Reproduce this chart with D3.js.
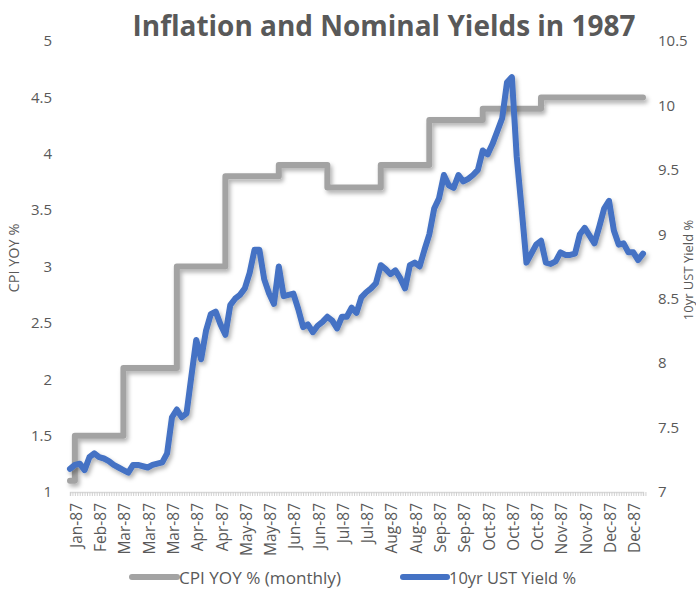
<!DOCTYPE html>
<html>
<head>
<meta charset="utf-8">
<script src="https://cdn.jsdelivr.net/npm/d3@7/dist/d3.min.js"></script>
<style>
  html, body { margin: 0; padding: 0; background: #ffffff; }
  svg { display: block; }
</style>
</head>
<body>
<svg id="chart" width="696" height="589"></svg>
<script>
// ---------------- DATA ----------------
const title = "Inflation and Nominal Yields in 1987";
const categories = ["Jan-87","Feb-87","Mar-87","Mar-87","Mar-87","Apr-87","Apr-87","May-87","May-87","Jun-87","Jun-87","Jul-87","Jul-87","Aug-87","Aug-87","Sep-87","Sep-87","Oct-87","Oct-87","Oct-87","Nov-87","Nov-87","Dec-87","Dec-87"];
const leftTicks = [1, 1.5, 2, 2.5, 3, 3.5, 4, 4.5, 5];
const rightTicks = [7, 7.5, 8, 8.5, 9, 9.5, 10, 10.5];

const yieldValues = [
  7.18, 7.21, 7.22, 7.17, 7.27, 7.30, 7.27, 7.26, 7.24, 7.21,
  7.19, 7.17, 7.15, 7.21, 7.21, 7.20, 7.19, 7.21, 7.22, 7.23,
  7.30, 7.58, 7.64, 7.58, 7.61, 7.90, 8.18, 8.03, 8.25, 8.38,
  8.40, 8.30, 8.22, 8.45, 8.50, 8.53, 8.58, 8.70, 8.88, 8.88,
  8.65, 8.54, 8.46, 8.75, 8.52, 8.53, 8.54, 8.42, 8.28, 8.30,
  8.24, 8.29, 8.32, 8.36, 8.33, 8.27, 8.36, 8.36, 8.43, 8.39,
  8.51, 8.55, 8.58, 8.62, 8.76, 8.73, 8.69, 8.72, 8.66, 8.58,
  8.76, 8.78, 8.75, 8.88, 9.00, 9.20, 9.28, 9.46, 9.38, 9.36,
  9.46, 9.41, 9.43, 9.46, 9.50, 9.65, 9.62, 9.70, 9.80, 9.90,
  10.18, 10.22, 9.60, 9.20, 8.78, 8.85, 8.92, 8.95, 8.78, 8.77,
  8.79, 8.86, 8.84, 8.84, 8.85, 9.00, 9.05, 8.99, 8.93, 9.06,
  9.20, 9.26, 9.03, 8.92, 8.93, 8.86, 8.86, 8.80, 8.85
];

// CPI YOY % (monthly): value and observation index where each month's value starts
const cpiValues = [1.1, 1.5, 2.1, 3.0, 3.8, 3.9, 3.7, 3.9, 4.3, 4.4, 4.5, 4.5];
const cpiStart  = [0, 1, 11, 22, 32, 43, 53, 64, 74, 85, 97, 107];

const categoryStep = 5;   // one axis label every 5 observations
const categoryOffset = 1; // first label at observation 1

const seriesNames = ["CPI YOY % (monthly)", "10yr UST Yield %"];
const leftTitle = "CPI YOY %";
const rightTitle = "10yr UST Yield %";

// ---------------- LAYOUT ----------------
const svg = d3.select("#chart");
const plot = { left: 70, right: 643, top: 41, bottom: 492 };
const textColor = "#595959";
const grayColor = "#a3a3a3";
const blueColor = "#4472C4";
const fontFam = "'Open Sans', Lato, 'DejaVu Sans', sans-serif";

const n = yieldValues.length;
const x = d3.scaleLinear().domain([0, n - 1]).range([plot.left, plot.right]);
const yL = d3.scaleLinear().domain([1, 5]).range([plot.bottom, plot.top]);
const yR = d3.scaleLinear().domain([7, 10.5]).range([plot.bottom, plot.top]);

// shadow filter
const defs = svg.append("defs");
const f = defs.append("filter").attr("id", "shadow")
  .attr("x", "-5%").attr("y", "-5%").attr("width", "115%").attr("height", "115%");
f.append("feDropShadow").attr("dx", 2).attr("dy", 3).attr("stdDeviation", 2)
  .attr("flood-color", "#000").attr("flood-opacity", 0.3);

function fitWidth(sel, base, target) {
  const w = sel.node().getComputedTextLength();
  sel.attr("font-size", base * target / w);
}

// Title
const t = svg.append("text")
  .attr("x", 384).attr("y", 36)
  .attr("text-anchor", "middle")
  .attr("font-family", fontFam)
  .attr("font-weight", "bold")
  .attr("font-size", 24)
  .attr("fill", textColor)
  .text(title);
fitWidth(t, 24, 503);

// Left axis
const gL = svg.append("g").attr("transform", `translate(${plot.left - 18},0)`)
  .call(d3.axisLeft(yL).tickValues(leftTicks).tickSize(0).tickPadding(0).tickFormat(d3.format("~g")));
gL.select(".domain").remove();
gL.selectAll("text").attr("font-family", fontFam).attr("font-size", 15).attr("fill", textColor);

// Right axis
const gR = svg.append("g").attr("transform", `translate(${plot.right + 15},0)`)
  .call(d3.axisRight(yR).tickValues(rightTicks).tickSize(0).tickPadding(0).tickFormat(d3.format("~g")));
gR.select(".domain").remove();
gR.selectAll("text").attr("font-family", fontFam).attr("font-size", 15).attr("fill", textColor);

// X axis: line, minor ticks and labels
const labelIdx = categories.map((c, i) => categoryOffset + i * categoryStep);
const gX = svg.append("g").attr("transform", `translate(0,${plot.bottom})`)
  .call(d3.axisBottom(x).tickValues(d3.range(0, n - 0.5 + 0.01, 0.5)).tickSize(4).tickFormat(""));
gX.select(".domain").attr("stroke", "#d9d9d9").attr("stroke-width", 1.5);
gX.selectAll(".tick line").attr("stroke", "#d0d0d0").attr("stroke-width", 1);

svg.append("g").selectAll("text").data(categories).join("text")
  .attr("transform", (d, i) => `translate(${x(labelIdx[i]) + 1},503) rotate(-90)`)
  .attr("text-anchor", "end")
  .attr("dominant-baseline", "central")
  .attr("font-family", fontFam).attr("font-size", 15.5)
  .attr("fill", textColor)
  .text(d => d);

// Axis titles
svg.append("text")
  .attr("transform", `translate(13,258) rotate(-90)`)
  .attr("text-anchor", "middle").attr("dominant-baseline", "central")
  .attr("font-family", fontFam).attr("font-size", 14.5).attr("fill", textColor)
  .text(leftTitle);
svg.append("text")
  .attr("transform", `translate(688,270) rotate(-90)`)
  .attr("text-anchor", "middle").attr("dominant-baseline", "central")
  .attr("font-family", fontFam).attr("font-size", 13).attr("fill", textColor)
  .text(rightTitle);

// CPI step series
const cpiPoints = cpiValues.map((v, i) => [cpiStart[i], v]);
cpiPoints.push([n - 1, cpiValues[cpiValues.length - 1]]);
const cpiLine = d3.line().x(d => x(d[0])).y(d => yL(d[1])).curve(d3.curveStepAfter);
svg.append("path")
  .attr("d", cpiLine(cpiPoints))
  .attr("fill", "none").attr("stroke", grayColor).attr("stroke-width", 6)
  .attr("stroke-linejoin", "round").attr("stroke-linecap", "round")
  .attr("filter", "url(#shadow)");

// Yield series
const yLine = d3.line().x((d, i) => x(i)).y(d => yR(d)).curve(d3.curveLinear);
svg.append("path")
  .attr("d", yLine(yieldValues))
  .attr("fill", "none").attr("stroke", blueColor).attr("stroke-width", 6)
  .attr("stroke-linejoin", "round").attr("stroke-linecap", "round")
  .attr("filter", "url(#shadow)");

// Legend
const legend = [
  { name: seriesNames[0], color: grayColor, x0: 132, x1: 177, w: 6, tw: 162 },
  { name: seriesNames[1], color: blueColor, x0: 403, x1: 447, w: 6, tw: 127 }
];
const gLeg = svg.append("g");
legend.forEach(l => {
  gLeg.append("line").attr("x1", l.x0).attr("x2", l.x1).attr("y1", 577).attr("y2", 577)
    .attr("stroke", l.color).attr("stroke-width", l.w).attr("stroke-linecap", "round");
  const lt = gLeg.append("text").attr("x", l.x1 + 2).attr("y", 577)
    .attr("dominant-baseline", "central")
    .attr("font-family", fontFam).attr("font-size", 15).attr("fill", textColor)
    .text(l.name);
  fitWidth(lt, 15, l.tw);
});
</script>
</body>
</html>
